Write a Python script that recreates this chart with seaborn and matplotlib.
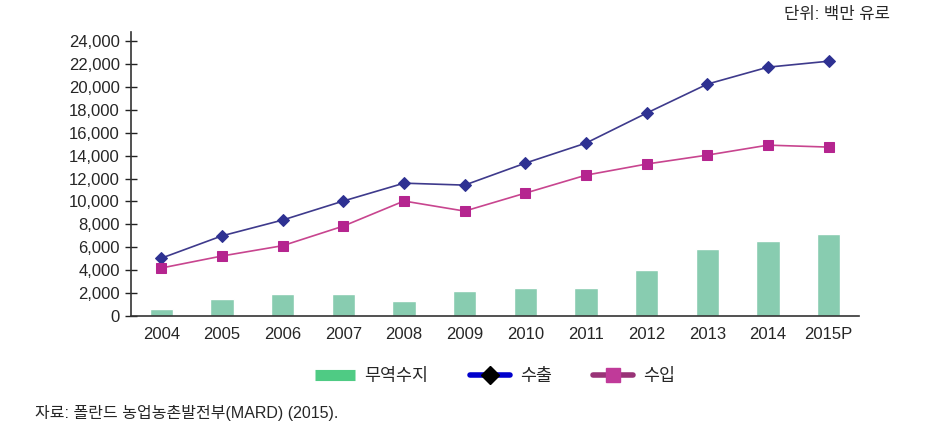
import matplotlib.pyplot as plt
import seaborn as sns
from matplotlib.lines import Line2D

# data (million EUR)
years = ['2004', '2005', '2006', '2007', '2008', '2009', '2010', '2011',
         '2012', '2013', '2014', '2015P']
balance = [610, 1480, 1890, 1920, 1310, 2180, 2440, 2440, 4010, 5820, 6520, 7180]
exports = [5050, 7000, 8380, 10040, 11600, 11430, 13350, 15100, 17720, 20250,
           21730, 22250]
imports = [4190, 5240, 6140, 7850, 10040, 9160, 10730, 12300, 13270, 14050,
           14920, 14750]
y_ticks = list(range(0, 24001, 2000))

sns.set_style('white')
plt.rcParams['font.family'] = ['Liberation Sans', 'Noto Sans CJK KR', 'DejaVu Sans']

fig = plt.figure(figsize=(9.51, 4.41), dpi=100)
ax = fig.add_axes([131 / 951, 125 / 441, (859 - 131) / 951, (316 - 32) / 441])

sns.barplot(x=years, y=balance, color='#88CCB0', width=0.38, saturation=1,
            ax=ax, zorder=2)
sns.lineplot(x=years, y=exports, color='#3E3A8C', marker='D', markersize=6.5,
             markerfacecolor='#2E3192', markeredgecolor='#2E3192', lw=1.2,
             sort=False, ax=ax, zorder=3)
sns.lineplot(x=years, y=imports, color='#C8458F', marker='s', markersize=7.5,
             markerfacecolor='#B5258F', markeredgecolor='#B5258F', lw=1.2,
             sort=False, ax=ax, zorder=3)

ax.set_xlim(-0.5, len(years) - 0.5)
ax.set_ylim(0, 24800)
ax.set_yticks(y_ticks)
ax.set_yticklabels([f'{v:,}' for v in y_ticks], fontsize=12)
ax.set_xticks(range(len(years)))
ax.set_xticklabels(years, fontsize=12)
ax.set_xticks([i - 0.5 for i in range(len(years) + 1)], minor=True)
ax.tick_params(axis='x', which='major', length=0, pad=8)
ax.tick_params(axis='x', which='minor', direction='inout', length=8, width=1,
               color='#222222')
ax.tick_params(axis='y', direction='inout', length=8, width=1,
               color='#222222', pad=4, left=True)
for side in ['top', 'right']:
    ax.spines[side].set_visible(False)
for side in ['left', 'bottom']:
    ax.spines[side].set_color('#333333')
    ax.spines[side].set_linewidth(1.2)
ax.set_xlabel('')
ax.set_ylabel('')

handles = [
    Line2D([], [], color='#4FCB84', lw=8, solid_capstyle='butt'),
    Line2D([], [], color='#0000CC', lw=4, marker='D', markersize=9,
           markerfacecolor='black', markeredgecolor='black'),
    Line2D([], [], color='#993377', lw=4, marker='s', markersize=10,
           markerfacecolor='#C03A99', markeredgecolor='#C03A99'),
]
fig.legend(handles, ['무역수지', '수출', '수입'], loc='center',
           bbox_to_anchor=(495 / 951, 1 - 376 / 441), ncol=3, frameon=False,
           fontsize=12.5, handlelength=2.3, columnspacing=2.4, handletextpad=0.55)

fig.text(890 / 951, 1 - 14 / 441, '단위: 백만 유로', ha='right', va='center',
         fontsize=12)
fig.text(35 / 951, 1 - 413 / 441, '자료: 폴란드 농업농촌발전부(MARD) (2015).',
         ha='left', va='center', fontsize=11.5)

fig.savefig('out.png', dpi=100)
